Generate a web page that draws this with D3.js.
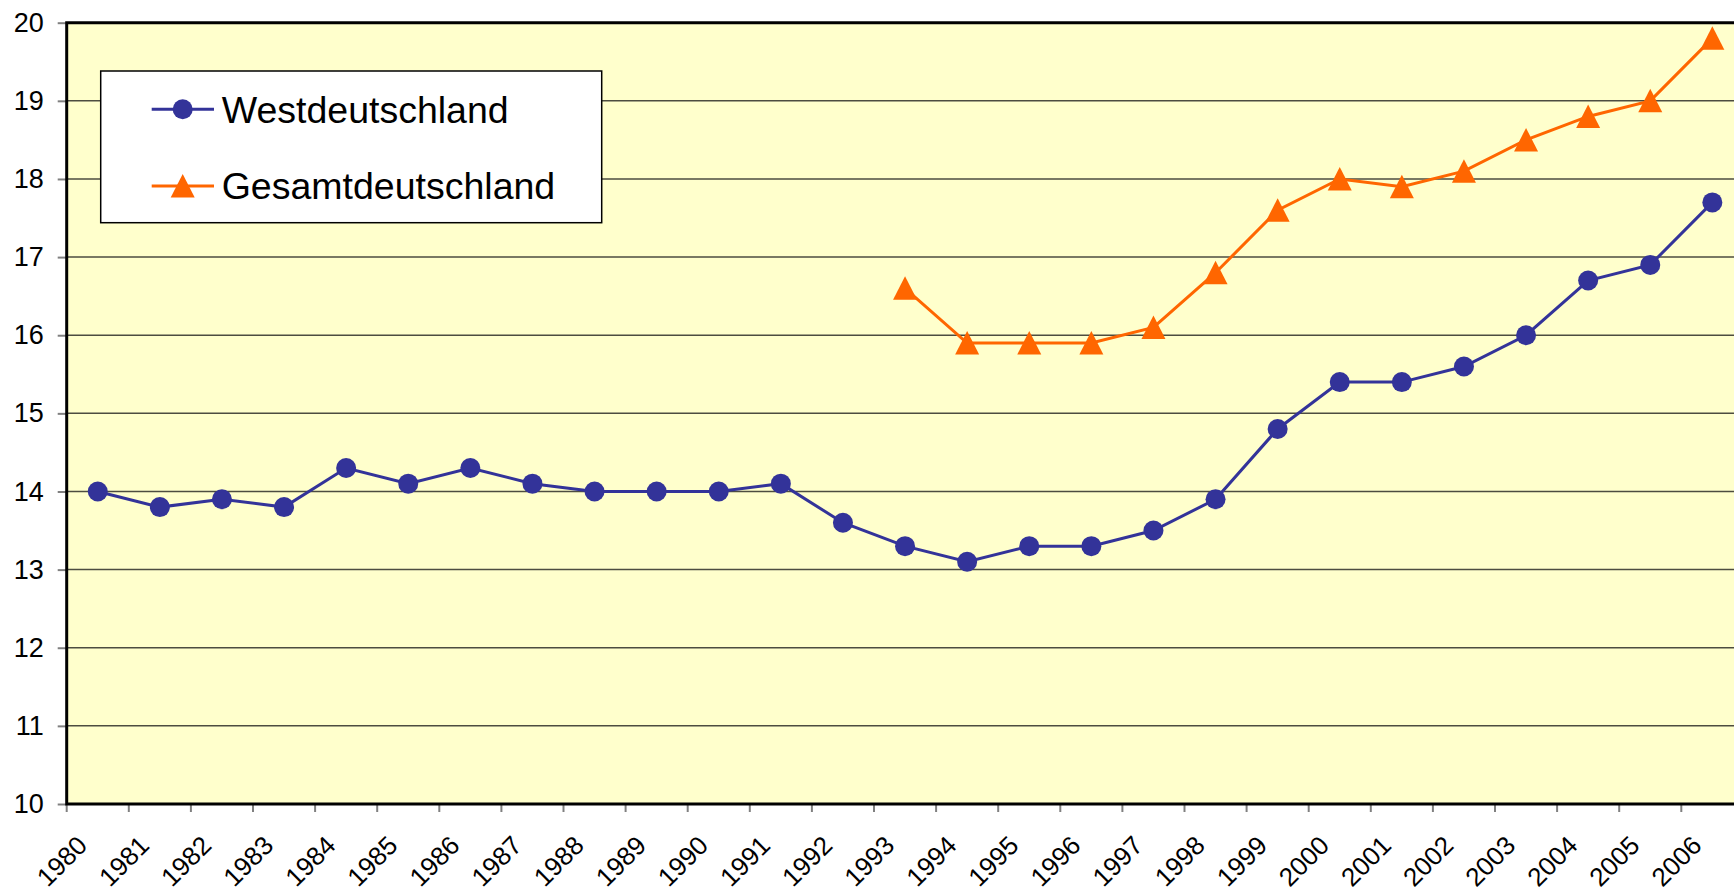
<!DOCTYPE html>
<html>
<head>
<meta charset="utf-8">
<script src="https://cdn.jsdelivr.net/npm/d3@7"></script>
<style>
  body { margin: 0; background: #fff; overflow: hidden; }
  text { font-family: Arial, "Liberation Sans", sans-serif; }
</style>
</head>
<body>
<div id="chart"></div>
<script>
// Years on the x axis
const years = d3.range(1980, 2007).map(String);

// Westdeutschland, 1980-2006
const west = [14.0, 13.8, 13.9, 13.8, 14.3, 14.1, 14.3, 14.1, 14.0, 14.0, 14.0, 14.1, 13.6,
              13.3, 13.1, 13.3, 13.3, 13.5, 13.9, 14.8, 15.4, 15.4, 15.6, 16.0, 16.7, 16.9, 17.7];

// Gesamtdeutschland, 1993-2006
const gesamtYears = d3.range(1993, 2007).map(String);
const gesamt = [16.6, 15.9, 15.9, 15.9, 16.1, 16.8, 17.6, 18.0, 17.9, 18.1, 18.5, 18.8, 19.0, 19.8];

const yTicks = [10, 11, 12, 13, 14, 15, 16, 17, 18, 19, 20];

const seriesNames = ["Westdeutschland", "Gesamtdeutschland"];
const blue = "#333399", orange = "#ff6600";

// Dimensions
const W = 1734, H = 895;
const margin = { top: 22.7, left: 66.7 };
const bandW = 62.1;
const plotW = bandW * years.length,
      plotH = 804 - margin.top;

const svg = d3.select("#chart")
    .append("svg")
    .attr("width", W)
    .attr("height", H);

const g = svg.append("g")
    .attr("transform", `translate(${margin.left}, ${margin.top})`);

// Scales
const x = d3.scaleBand()
    .domain(years)
    .range([0, plotW]);

const y = d3.scaleLinear()
    .domain([10, 20])
    .range([plotH, 0]);

// Plot background
g.append("rect")
    .attr("width", plotW)
    .attr("height", plotH)
    .attr("fill", "#ffffcc");

// Gridlines
g.selectAll(".grid")
    .data(yTicks.slice(1, -1))
    .enter()
    .append("line")
    .attr("x1", 0)
    .attr("x2", plotW)
    .attr("y1", d => y(d))
    .attr("y2", d => y(d))
    .attr("stroke", "#4d4d40")
    .attr("stroke-width", 1.5);

// Y axis
const yAxis = g.append("g")
    .call(d3.axisLeft(y).tickValues(yTicks).tickSize(9).tickPadding(14));
yAxis.attr("font-size", null).attr("font-family", null);
yAxis.select(".domain").remove();
yAxis.selectAll("line").attr("stroke", "#808080").attr("stroke-width", 2);
yAxis.selectAll("text")
    .style("font-size", "27px")
    .attr("fill", "#000");

// X axis: ticks between categories, rotated labels
const xAxis = g.append("g")
    .attr("transform", `translate(0, ${plotH})`)
    .call(d3.axisBottom(x).tickSize(8).tickSizeOuter(0));
xAxis.attr("font-size", null).attr("font-family", null);
xAxis.select(".domain").remove();
xAxis.selectAll("line")
    .attr("x1", -bandW / 2)
    .attr("x2", -bandW / 2)
    .attr("stroke", "#808080")
    .attr("stroke-width", 2);
xAxis.selectAll("text")
    .style("font-size", "26px")
    .attr("fill", "#000")
    .attr("text-anchor", "end")
    .attr("dy", null)
    .attr("y", 0)
    .attr("transform", "translate(-9, 43) rotate(-45)");

// Plot border (top, left, bottom)
g.append("path")
    .attr("d", `M${plotW},0 H0 V${plotH} H${plotW}`)
    .attr("fill", "none")
    .attr("stroke", "#000")
    .attr("stroke-width", 3);

const cx = d => x(d) + x.bandwidth() / 2;

// Westdeutschland line
const westData = years.map((yr, i) => ({ year: yr, value: west[i] }));
g.append("path")
    .datum(westData)
    .attr("fill", "none")
    .attr("stroke", blue)
    .attr("stroke-width", 3)
    .attr("d", d3.line().x(d => cx(d.year)).y(d => y(d.value)));

g.selectAll(".dot")
    .data(westData)
    .enter()
    .append("circle")
    .attr("cx", d => cx(d.year))
    .attr("cy", d => y(d.value))
    .attr("r", 10)
    .attr("fill", blue);

// Gesamtdeutschland line
const gesamtData = gesamtYears.map((yr, i) => ({ year: yr, value: gesamt[i] }));
g.append("path")
    .datum(gesamtData)
    .attr("fill", "none")
    .attr("stroke", orange)
    .attr("stroke-width", 3)
    .attr("d", d3.line().x(d => cx(d.year)).y(d => y(d.value)));

const tri = "M0,-12 L12,11.5 L-12,11.5 Z";
g.selectAll(".tri")
    .data(gesamtData)
    .enter()
    .append("path")
    .attr("d", tri)
    .attr("transform", d => `translate(${cx(d.year)}, ${y(d.value)})`)
    .attr("fill", orange);

// Legend
const legend = svg.append("g")
    .attr("transform", "translate(100.7, 71)");

legend.append("rect")
    .attr("width", 501)
    .attr("height", 151.7)
    .attr("fill", "#fff")
    .attr("stroke", "#000")
    .attr("stroke-width", 1.5);

seriesNames.forEach((name, i) => {
    const ly = i === 0 ? 38.3 : 115;
    const col = i === 0 ? blue : orange;
    legend.append("line")
        .attr("x1", 51)
        .attr("x2", 113.3)
        .attr("y1", ly)
        .attr("y2", ly)
        .attr("stroke", col)
        .attr("stroke-width", 3);
    if (i === 0) {
        legend.append("circle")
            .attr("cx", 82)
            .attr("cy", ly)
            .attr("r", 10)
            .attr("fill", col);
    } else {
        legend.append("path")
            .attr("d", tri)
            .attr("transform", `translate(82, ${ly})`)
            .attr("fill", col);
    }
    legend.append("text")
        .attr("x", 121)
        .attr("y", ly + 13.2)
        .style("font-size", "37.5px")
        .text(name);
});
</script>
</body>
</html>
